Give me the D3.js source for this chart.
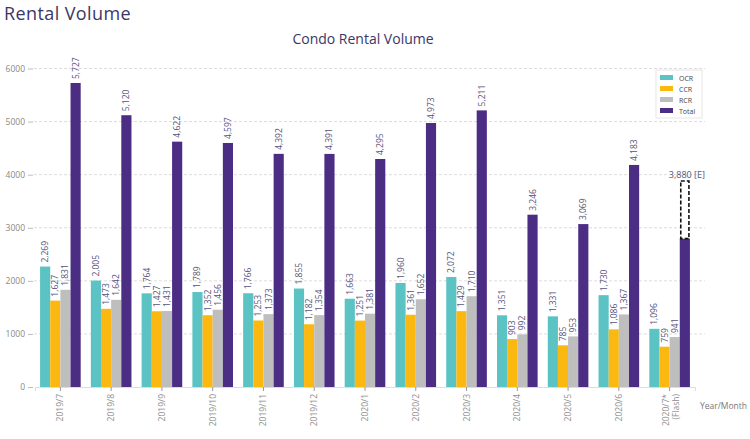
<!DOCTYPE html>
<html><head><meta charset="utf-8">
<script src="https://cdn.jsdelivr.net/npm/d3@7"></script>
<style>
body{margin:0;background:#fff;}
svg{display:block;font-family:"Open Sans",sans-serif;}
</style></head>
<body><svg id="c" width="750" height="439"></svg>
<script>
const categories = ["2019/7","2019/8","2019/9","2019/10","2019/11","2019/12","2020/1","2020/2","2020/3","2020/4","2020/5","2020/6","2020/7*"];
const ocr   = [2269,2005,1764,1789,1766,1855,1663,1960,2072,1351,1331,1730,1096];
const ccr   = [1627,1473,1427,1352,1253,1182,1251,1361,1429,903,785,1086,759];
const rcr   = [1831,1642,1431,1456,1373,1354,1381,1652,1710,992,953,1367,941];
const total = [5727,5120,4622,4597,4392,4391,4295,4973,5211,3246,3069,4183,2796];
const estimate = {category:"2020/7*", value:3880, label:"3,880 [E]"};
const seriesNames = ["OCR","CCR","RCR","Total"];
const colors = ["#5BC3C4","#FBB810","#BEBEBE","#4B2D84"];
const yTicks = [0,1000,2000,3000,4000,5000,6000];

const svg = d3.select("#c");
const x0 = d3.scaleBand().domain(categories).range([35,695]).paddingInner(0.2).paddingOuter(0.1);
const x1 = d3.scaleBand().domain(seriesNames).range([0,x0.bandwidth()]);
const y = d3.scaleLinear().domain([0,6000]).range([387,68.5]);

svg.append("text").attr("x",4).attr("y",20).attr("font-size",18).attr("fill","#3b3766").attr("font-weight",500).attr("letter-spacing",0.4).text("Rental Volume");
svg.append("text").attr("x",363).attr("y",44).attr("text-anchor","middle").attr("font-size",14).attr("fill","#3b3766").text("Condo Rental Volume");

// grid
svg.append("g").selectAll("line").data(yTicks.filter(d=>d>0)).join("line")
  .attr("x1",34).attr("x2",705).attr("y1",d=>y(d)).attr("y2",d=>y(d))
  .attr("stroke","#d4d4d4").attr("stroke-dasharray","3,2").attr("stroke-width",0.8);

const ya = svg.append("g").attr("transform","translate(33,0)")
  .call(d3.axisLeft(y).tickValues(yTicks).tickSize(5).tickPadding(3).tickFormat(d3.format("d")));
ya.select(".domain").remove();
ya.selectAll(".tick line").attr("stroke","#bbb");
ya.selectAll("text").attr("font-size",8.5).attr("fill","#888").attr("font-family","Open Sans");

const xa = svg.append("g").attr("transform","translate(0,387)")
  .call(d3.axisBottom(x0).tickSize(4).tickFormat(""));
xa.select(".domain").attr("stroke","#ddd");
xa.selectAll(".tick line").attr("stroke","#999");
xa.selectAll(".tick").each(function(d){
  const g = d3.select(this);
  const t = g.append("text").attr("transform","rotate(-90)").attr("text-anchor","end")
    .attr("font-size",8.5).attr("fill","#8f8f8f").attr("font-family","Open Sans");
  if(d==="2020/7*"){
    t.append("tspan").attr("x",-7).attr("y",-1).text(d);
    t.append("tspan").attr("x",-7).attr("y",9).text("(Flash)");
  } else {
    t.attr("x",-7).attr("y",3).text(d);
  }
});
svg.append("text").attr("x",700).attr("y",409).attr("font-size",8.5).attr("fill","#777").text("Year/Month");

const series = [ocr,ccr,rcr,total];
const fmt = d3.format(",");
seriesNames.forEach((name,si)=>{
  const g = svg.append("g");
  const data = categories.map((c,i)=>({c,v:series[si][i]}));
  g.selectAll("rect").data(data).join("rect")
    .attr("x",d=>x0(d.c)+x1(name)).attr("width",x1.bandwidth())
    .attr("y",d=>y(d.v)).attr("height",d=>y(0)-y(d.v)).attr("fill",colors[si]);
  g.selectAll("text").data(data.filter(d=>!(name==="Total" && d.c===estimate.category))).join("text")
    .attr("transform",d=>`translate(${x0(d.c)+x1(name)+x1.bandwidth()/2+3},${y(d.v)-4}) rotate(-90)`)
    .attr("font-size",8.5).attr("fill","#55527a").text(d=>fmt(d.v));
});

// estimate box
const ex = x0(estimate.category)+x1("Total");
const lastTotal = total[categories.indexOf(estimate.category)];
svg.append("rect").attr("x",ex+1).attr("width",x1.bandwidth()-2)
  .attr("y",y(estimate.value)).attr("height",y(lastTotal)-y(estimate.value))
  .attr("fill","#fff").attr("stroke","#111").attr("stroke-width",1.6).attr("stroke-dasharray","4,2");
svg.append("text").attr("x",ex+x1.bandwidth()/2+2).attr("y",y(estimate.value)-3).attr("text-anchor","middle")
  .attr("font-size",9).attr("fill","#55527a").text(estimate.label);

// legend
const lg = svg.append("g").attr("transform","translate(656,70)");
lg.append("rect").attr("width",46).attr("height",48).attr("fill","#fff").attr("stroke","#e6e6e6");
seriesNames.forEach((n,i)=>{
  lg.append("rect").attr("x",4).attr("y",5+i*11).attr("width",13).attr("height",5).attr("fill",colors[i]);
  lg.append("text").attr("x",23).attr("y",10.5+i*11).attr("font-size",7).attr("fill","#444").text(n);
});
</script></body></html>
